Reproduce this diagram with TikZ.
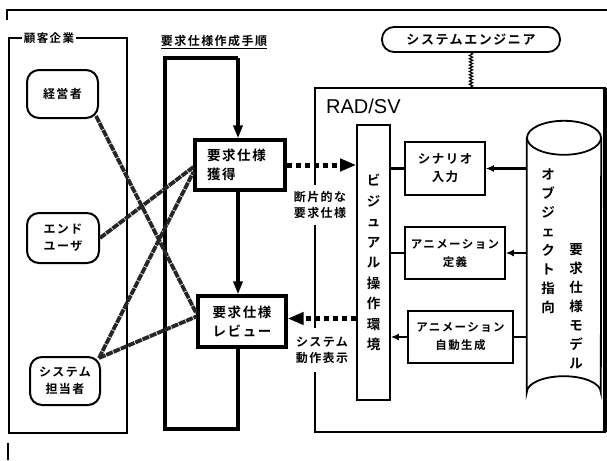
\documentclass[tikz,border=0pt]{standalone}
\usepackage{fontspec}
\newfontfamily\jpb{Noto Sans CJK JP Bold}[LetterSpace=12]
\newfontfamily\lsans{Liberation Sans}
\usetikzlibrary{arrows.meta,decorations.pathmorphing,calc}
\newcommand\jsz[2]{\jpb\fontsize{#1}{#2}\selectfont}
\begin{document}
\begin{tikzpicture}[x=1pt,y=-1pt,
  person/.style={draw, line width=2pt, rounded corners=12pt, align=center, inner sep=0pt, font=\jsz{12}{17}},
  procbox/.style={draw, line width=3.2pt, inner sep=0pt, font=\jsz{13.5}{19}, fill=white},
  toolbox/.style={draw, line width=1.6pt, inner sep=0pt, align=center, fill=white},
  procline/.style={line width=3.6pt},
  tip/.style={-{Triangle[length=13pt,width=9pt]}},
  hatch/.style={line width=3.8pt, draw=black!85, dash pattern=on 7pt off 0.9pt},
  dotarrow/.style={line width=5pt, dash pattern=on 5pt off 4pt, -{Triangle[length=16pt,width=12pt]}},
  lbl/.style={font=\jsz{12}{16}, align=center, fill=white, inner xsep=1pt},
  link/.style={line width=2.2pt},
  sarrow/.style={line width=2.2pt, -{Latex[length=8pt,width=7pt]}}
]
\useasboundingbox (0,0) rectangle (607,460);

% outer frame fragments
\draw[line width=1.6pt] (7,20) -- (7,10) -- (607,10);
\draw[line width=1.6pt] (8,443) -- (8,460);

% customer company
\draw[line width=2pt] (9,38) rectangle (127,433);
\node[font=\jsz{11.5}{14}, fill=white, inner xsep=2pt, inner ysep=0pt] (custlbl) at (49,38) {顧客企業};
\node[person, minimum width=71pt, minimum height=48pt] (keiei) at (62.5,94) {経営者};
\node[person, minimum width=72pt, minimum height=50pt] (enduser) at (63,238) {エンド\\ユーザ};
\node[person, minimum width=70pt, minimum height=48pt] (sys) at (65,381) {システム\\担当者};

% process column
\node[font=\jsz{12}{14}] (proclbl) at (214,42) {\underline{要求仕様作成手順}};
\coordinate (pTL) at (165,58);
\coordinate (pTR) at (238,58);
\coordinate (pBL) at (165,429);
\coordinate (pBR) at (238,429);
\node[procbox, minimum height=50pt, text width=66pt, inner xsep=12pt, align=left] (kakutoku) at (240,165) {要求仕様\\獲得};
\node[procbox, minimum width=88pt, minimum height=51pt, align=center] (review) at (242,321.5) {要求仕様\\レビュー};
\draw[procline, tip] (pTR) -- (pTR |- kakutoku.north);
\draw[procline, tip] (pTR |- kakutoku.south) -- (pTR |- review.north);
\draw[procline, line join=miter] (pTR |- review.south) -- (pBR) -- (pBL) -- (pTL) -- (pTR);

% system engineer and RAD/SV
\node[draw, line width=1.8pt, rounded corners=12pt, minimum width=178pt, minimum height=25pt, inner sep=0pt, font=\jsz{13}{15}] (se) at (471,39.5) {システムエンジニア};
\coordinate (radTL) at (315,88);
\coordinate (radBR) at (605,432);
\draw[line width=1.5pt] (radTL) rectangle (radBR);
\draw[line width=3.2pt] (radTL -| radBR) -- (radBR);
\draw[line width=1.2pt, decorate, decoration={snake, amplitude=1.6pt, segment length=3.2pt}] (se.south) -- (se.south |- radTL);
\node[font=\lsans\fontsize{20}{20}\selectfont, anchor=west, inner sep=0pt] (radlbl) at (326,106) {RAD/SV};

\node[toolbox, minimum width=33pt, minimum height=275pt, font=\jsz{13.5}{20.5}] (visual) at (373.5,262.5) {ビ\\ジ\\ュ\\ア\\ル\\操\\作\\環\\境};
\node[toolbox, minimum width=80pt, minimum height=53pt, font=\jsz{12.5}{18}] (scen) at (445,168.5) {シナリオ\\入力};
\node[toolbox, minimum width=100pt, minimum height=52pt, font=\jsz{11.5}{18}] (teigi) at (455,253) {アニメーション\\定義};
\node[toolbox, minimum width=105pt, minimum height=52pt, font=\jsz{11.5}{18}] (jidou) at (460.5,337) {アニメーション\\自動生成};

% cylinder (object-oriented requirement model)
\node[minimum width=74pt, minimum height=254pt, inner sep=0pt] (cyl) at (564,265) {};
\draw[line width=1.8pt, fill=white] (cyl.north west) -- (cyl.south west) arc[start angle=180, end angle=0, x radius=37pt, y radius=16pt] -- (cyl.north east);
\draw[line width=1.8pt] (cyl.north) ellipse [x radius=37pt, y radius=17pt];
\node[font=\jsz{13.5}{19}, align=center, inner sep=0pt] (cyltxt1) at (548,241) {オ\\ブ\\ジ\\ェ\\ク\\ト\\指\\向};
\node[font=\jsz{13.5}{19}, align=center, inner sep=0pt] (cyltxt2) at (576,306) {要\\求\\仕\\様\\モ\\デ\\ル};

% tool connectors
\draw[link] (visual.east |- scen.west) -- (scen.west);
\draw[sarrow] (scen.east -| cyl.west) -- (scen.east);
\draw[link] (visual.east |- teigi.west) -- (teigi.west);
\draw[sarrow] (teigi.east -| cyl.west) -- (teigi.east);
\draw[sarrow] (jidou.west) -- (visual.east |- jidou.west);
\draw[link] (jidou.east) -- (jidou.east -| cyl.west);

% labels on the RAD/SV left edge
\node[lbl, inner ysep=6pt] (frag) at (320,205) {断片的な\\要求仕様};
\node[lbl, inner ysep=9pt] (disp) at (322,350) {システム\\動作表示};

% dotted arrows
\draw[dotarrow] (kakutoku.east) -- (kakutoku.east -| visual.west);
\draw[dotarrow] ($(visual.west |- review.east)+(0,-3)$) -- ($(review.east)+(0,-3)$);

% hatched relations
\draw[hatch] ($(keiei.south east)+(-3,-3)$) -- ($(review.west)+(0,-8)$);
\draw[hatch] (enduser.east) -- ($(kakutoku.west)+(0,2)$);
\draw[hatch] ($(sys.north east)+(-2,2)$) -- ($(kakutoku.west)+(0,7)$);
\draw[hatch] ($(sys.north east)+(-2,2)$) -- ($(review.west)+(0,-5)$);
\end{tikzpicture}
\end{document}
